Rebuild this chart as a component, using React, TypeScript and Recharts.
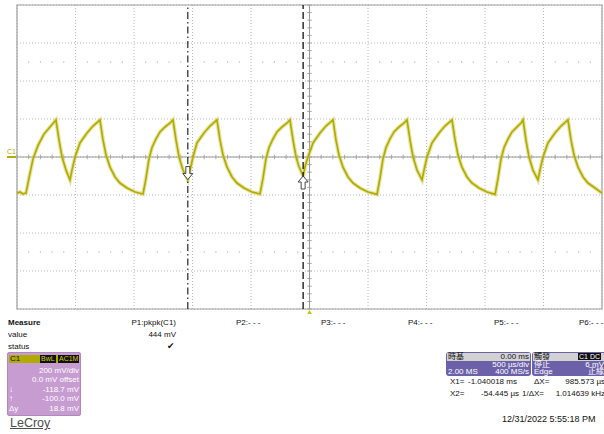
import React from "react";
import {
  ComposedChart, Line, Scatter, XAxis, YAxis, CartesianGrid,
  ReferenceLine, ReferenceArea, ReferenceDot,
} from "recharts";

// C1 trace: [time in ms, level in mV]
const c1Trace: [number, number][] = [
  [-2.5, -190], [-2.474, -184], [-2.449, -194], [-2.423, -190],
  [-2.397, -110], [-2.363, -10], [-2.321, 60], [-2.269, 121], [-2.218, 158], [-2.167, 195],
  [-2.141, 90], [-2.115, 0], [-2.081, -69], [-2.047, -121],
  [-2.03, -69], [-2.004, 0], [-1.962, 74], [-1.902, 126], [-1.85, 163], [-1.791, 195],
  [-1.765, 90], [-1.739, 10], [-1.705, -53], [-1.662, -105], [-1.62, -137], [-1.56, -163], [-1.491, -184], [-1.423, -195],
  [-1.397, -110], [-1.372, -10], [-1.346, 50], [-1.312, 95], [-1.278, 132], [-1.235, 158], [-1.192, 179], [-1.167, 195],
  [-1.141, 90], [-1.115, 0], [-1.081, -69], [-1.04, -119],
  [-1.021, -69], [-0.996, 0], [-0.962, 74], [-0.902, 126], [-0.85, 163], [-0.791, 195],
  [-0.765, 90], [-0.739, 10], [-0.705, -53], [-0.662, -105], [-0.62, -137], [-0.56, -163], [-0.491, -184], [-0.423, -195],
  [-0.397, -110], [-0.372, -10], [-0.346, 50], [-0.312, 95], [-0.278, 132], [-0.235, 158], [-0.192, 179], [-0.167, 195],
  [-0.141, 90], [-0.115, 0], [-0.09, -50], [-0.054, -100],
  [-0.038, -50], [-0.013, 0], [0.03, 74], [0.09, 126], [0.141, 163], [0.201, 195],
  [0.226, 90], [0.252, 10], [0.286, -53], [0.329, -105], [0.372, -137], [0.432, -163], [0.5, -184], [0.577, -197],
  [0.603, -110], [0.628, -10], [0.654, 50], [0.688, 95], [0.722, 132], [0.765, 158], [0.808, 179], [0.833, 195],
  [0.859, 90], [0.885, 0], [0.919, -69], [0.962, -121],
  [0.979, -69], [1.004, 0], [1.047, 74], [1.107, 126], [1.158, 163], [1.218, 195],
  [1.244, 90], [1.269, 10], [1.303, -53], [1.346, -105], [1.389, -137], [1.449, -163], [1.517, -184], [1.586, -197],
  [1.612, -110], [1.637, -10], [1.663, 50], [1.697, 95], [1.731, 132], [1.774, 158], [1.808, 179], [1.825, 195],
  [1.85, 90], [1.876, 0], [1.91, -69], [1.953, -121],
  [1.97, -69], [1.996, 0], [2.038, 74], [2.098, 126], [2.15, 163], [2.209, 195],
  [2.235, 90], [2.261, 10], [2.295, -53], [2.338, -105], [2.38, -137], [2.44, -163], [2.5, -190],
];

const timeTicks = [-2.5, -2, -1.5, -1, -0.5, 0, 0.5, 1, 1.5, 2, 2.5]; // 500 us/div
const voltTicks = [-800, -600, -400, -200, 0, 200, 400, 600, 800]; // 200 mV/div
const subSteps = [0.2, 0.4, 0.6, 0.8];
const dotRows = [500, -500];

const cursorX = [-1.040018, -0.054445];
const cursorY = [-118.7, -100.0];

const measureCols = ["P2:- - -", "P3:- - -", "P4:- - -", "P5:- - -", "P6:- - -"];
const measureLeft = [236, 321, 408, 494, 579];

const traceData = c1Trace.map(([t, v]) => ({ t, v }));

const tStep = timeTicks[1] - timeTicks[0];
const vStep = voltTicks[1] - voltTicks[0];
const timeMinor = timeTicks.slice(0, -1).flatMap((t) => subSteps.map((s) => +(t + s * tStep).toFixed(3)));
const voltMinor = voltTicks.slice(0, -1).flatMap((v) => subSteps.map((s) => +(v + s * vStep).toFixed(1)));
const dotData = dotRows.flatMap((v) => timeMinor.map((t) => ({ t, v })));

const TRACE = "#b2ac00";
const GRID = "#b8b8b8";
const FONT = '"Liberation Sans", Arial, sans-serif';
const CJK = '"Liberation Sans", "Noto Sans CJK TC", sans-serif';

function ChannelMarker({ viewBox }: any) {
  const { x, y } = viewBox;
  return (
    <g>
      <text x={x - 10} y={y - 3} fontSize={7} fill={TRACE} fontFamily={FONT}>C1</text>
      <line x1={x - 10} x2={x - 1} y1={y} y2={y} stroke={TRACE} strokeWidth={2} />
    </g>
  );
}

function TriggerMarker({ viewBox }: any) {
  const { x, y, height } = viewBox;
  const b = y + height;
  return <polygon points={`${x},${b + 1} ${x - 3.5},${b + 7} ${x + 3.5},${b + 7}`} fill="#c8c400" />;
}

function DownArrow({ cx, cy }: any) {
  return (
    <path
      d={`M${cx},${cy} L${cx - 5},${cy - 6} L${cx - 2},${cy - 6} L${cx - 2},${cy - 13} L${cx + 2},${cy - 13} L${cx + 2},${cy - 6} L${cx + 5},${cy - 6} Z`}
      fill="#fff" stroke="#333" strokeWidth={0.9}
    />
  );
}

function UpArrow({ cx, cy }: any) {
  return (
    <path
      d={`M${cx},${cy} L${cx - 5},${cy + 6} L${cx - 2},${cy + 6} L${cx - 2},${cy + 13} L${cx + 2},${cy + 13} L${cx + 2},${cy + 6} L${cx + 5},${cy + 6} Z`}
      fill="#fff" stroke="#333" strokeWidth={0.9}
    />
  );
}

const txt = (left: number, top: number, s: string, extra: React.CSSProperties = {}) => (
  <div style={{ position: "absolute", left, top, fontSize: 8, lineHeight: "10px", whiteSpace: "nowrap", ...extra }}>{s}</div>
);

export default function App() {
  return (
    <div style={{ position: "absolute", left: 0, top: 0, width: 604, height: 434, overflow: "hidden", background: "#fff", fontFamily: FONT, color: "#111" }}>
      <ComposedChart width={604} height={314} data={traceData} margin={{ top: 5, right: 2, left: 17, bottom: 5 }}>
        <XAxis type="number" dataKey="t" domain={[-2.5, 2.5]} ticks={timeTicks} hide />
        <YAxis type="number" domain={[-800, 800]} ticks={voltTicks} hide />
        <CartesianGrid strokeDasharray="1 2" stroke={GRID} />
        <Scatter
          data={dotData}
          dataKey="v"
          isAnimationActive={false}
          shape={(p: any) => <rect x={p.cx - 0.5} y={p.cy - 0.5} width={1} height={1} fill="#999" />}
        />
        {timeMinor.concat(timeTicks).map((t) => (
          <ReferenceLine key={`tx${t}`} segment={[{ x: t, y: -12 }, { x: t, y: 12 }]} stroke="#aaa" />
        ))}
        {voltMinor.concat(voltTicks).map((v) => (
          <ReferenceLine key={`ty${v}`} segment={[{ x: -0.02, y: v }, { x: 0.02, y: v }]} stroke="#aaa" />
        ))}
        <ReferenceLine y={0} stroke="#999" label={{ content: (p: any) => <ChannelMarker {...p} /> }} />
        <ReferenceLine x={0} stroke="#999" label={{ content: (p: any) => <TriggerMarker {...p} /> }} />
        <ReferenceArea x1={-2.5} x2={2.5} y1={-800} y2={800} fill="none" stroke="#a0a0a0" strokeWidth={1.2} />
        <Line dataKey="v" type="linear" stroke="#cfcb50" strokeWidth={4} strokeOpacity={0.5} dot={false} activeDot={false} isAnimationActive={false} />
        <Line dataKey="v" type="linear" stroke={TRACE} strokeWidth={1.7} dot={false} activeDot={false} isAnimationActive={false} />
        <ReferenceLine x={cursorX[0]} stroke="#111" strokeWidth={1.1} strokeDasharray="7 3 1.5 3" />
        <ReferenceLine x={cursorX[1]} stroke="#111" strokeWidth={1.3} strokeDasharray="7 3" />
        <ReferenceDot x={cursorX[0]} y={cursorY[0]} shape={(p: any) => <DownArrow {...p} />} />
        <ReferenceDot x={cursorX[1]} y={cursorY[1]} shape={(p: any) => <UpArrow {...p} />} />
      </ComposedChart>

      {/* measurement table */}
      {txt(8, 318, "Measure", { fontWeight: "bold" })}
      {txt(8, 330, "value")}
      {txt(8, 342, "status")}
      {txt(96, 318, "P1:pkpk(C1)", { width: 80, textAlign: "right" })}
      {txt(96, 330, "444 mV", { width: 80, textAlign: "right" })}
      {txt(167, 341, "✔", { fontFamily: "DejaVu Sans", fontSize: 9 })}
      {measureCols.map((s, i) => <React.Fragment key={s}>{txt(measureLeft[i], 318, s)}</React.Fragment>)}

      {/* channel box */}
      <div style={{ position: "absolute", left: 7, top: 352, width: 74, height: 64, background: "#c69cd1", borderRadius: 3, boxShadow: "inset 0 0 0 1px #b088bd" }}>
        <div style={{ position: "absolute", left: 2, top: 3, width: 70, height: 8, background: "#b1ab00" }}>
          {txt(1, -1, "C1", { color: "#111" })}
          {txt(31, 0, "BwL", { background: "#111", color: "#d6d200", fontSize: 7, lineHeight: "8px", padding: "0 1px" })}
          {txt(49, 0, "AC1M", { background: "#111", color: "#d6d200", fontSize: 7, lineHeight: "8px", padding: "0 1px" })}
        </div>
        {[["", "200 mV/div", 14], ["", "0.0 mV offset", 23], ["↓", "-118.7 mV", 33], ["↑", "-100.0 mV", 42], ["Δy", "18.8 mV", 52]].map(([l, r, top]) => (
          <React.Fragment key={r as string}>
            {txt(2, top as number, l as string, { color: "#fff" })}
            {txt(2, top as number, r as string, { color: "#fff", width: 70, textAlign: "right" })}
          </React.Fragment>
        ))}
      </div>
      <div style={{ position: "absolute", left: 10, top: 417, fontSize: 12.5, lineHeight: "13px", color: "#4d4d4d", textDecoration: "underline" }}>LeCroy</div>

      {/* timebase box */}
      <div style={{ position: "absolute", left: 446, top: 352, width: 85, height: 24, background: "#6c61a8", borderRadius: 3, overflow: "hidden", fontFamily: CJK }}>
        <div style={{ position: "absolute", left: 1, top: 1, width: 83, height: 8, background: "#d2d2d2" }} />
        {txt(2, 0, "時基", { color: "#111" })}
        {txt(2, 0, "0.00 ms", { color: "#111", width: 81, textAlign: "right" })}
        {txt(2, 7.5, "500 µs/div", { color: "#fff", width: 81, textAlign: "right" })}
        {txt(2, 15, "2.00 MS", { color: "#fff" })}
        {txt(2, 15, "400 MS/s", { color: "#fff", width: 81, textAlign: "right" })}
      </div>
      {/* trigger box */}
      <div style={{ position: "absolute", left: 532, top: 352, width: 80, height: 24, background: "#6c61a8", borderRadius: 3, overflow: "hidden", fontFamily: CJK }}>
        <div style={{ position: "absolute", left: 1, top: 1, width: 78, height: 8, background: "#d2d2d2" }} />
        {txt(2, 0, "觸發", { color: "#111" })}
        {txt(46, 1, "C1 DC", { background: "#111", color: "#fff", fontSize: 7, lineHeight: "7px", padding: "0 1px" })}
        {txt(2, 7.5, "停止", { color: "#fff" })}
        {txt(2, 7.5, "6 mV", { color: "#fff", width: 70, textAlign: "right" })}
        {txt(2, 15, "Edge", { color: "#fff" })}
        {txt(2, 15, "正緣", { color: "#fff", width: 70, textAlign: "right" })}
      </div>

      {/* cursor readout */}
      {txt(450, 377, "X1=")}
      {txt(468, 377, "-1.040018 ms")}
      {txt(534, 377, "ΔX=")}
      {txt(540, 377, "985.573 µs", { width: 65, textAlign: "right" })}
      {txt(450, 389, "X2=")}
      {txt(455, 389, "-54.445 µs", { width: 64, textAlign: "right" })}
      {txt(522, 389, "1/ΔX=")}
      {txt(540, 389, "1.014639 kHz", { width: 65, textAlign: "right" })}
      {txt(502, 414, "12/31/2022 5:55:18 PM", { fontSize: 9, lineHeight: "11px" })}
    </div>
  );
}
